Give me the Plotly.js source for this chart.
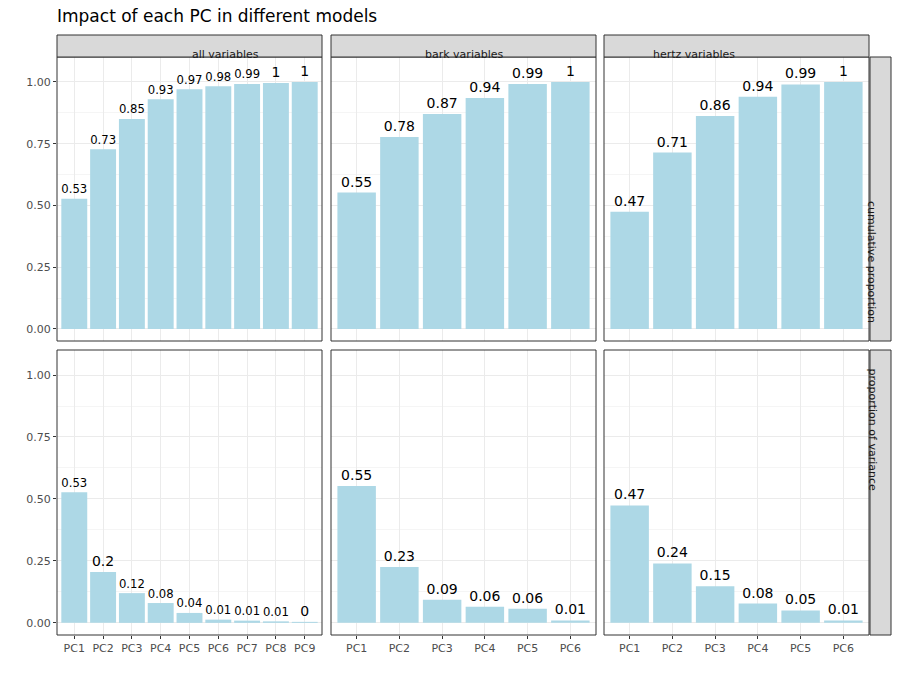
<!DOCTYPE html>
<html>
<head>
<script src="https://cdn.plot.ly/plotly-3.0.1.min.js"></script>
<style>body{margin:0}</style>
</head>
<body>
<div id="plot" style="width:900px;height:675px"></div>
<script>
var pcAll = ['PC1','PC2','PC3','PC4','PC5','PC6','PC7','PC8','PC9'];
var pcSix = ['PC1','PC2','PC3','PC4','PC5','PC6'];

var allCum = [0.527,0.727,0.850,0.930,0.970,0.983,0.992,0.996,1.0];
var barkCum = [0.552,0.777,0.870,0.935,0.992,1.0];
var hertzCum = [0.474,0.714,0.862,0.940,0.990,1.0];
var allProp = [0.527,0.205,0.120,0.080,0.040,0.013,0.009,0.006,0.004];
var barkProp = [0.552,0.225,0.093,0.065,0.057,0.010];
var hertzProp = [0.474,0.240,0.148,0.078,0.050,0.010];

var allCumLbl = ['0.53','0.73','0.85','0.93','0.97','0.98','0.99','1','1'];
var barkCumLbl = ['0.55','0.78','0.87','0.94','0.99','1'];
var hertzCumLbl = ['0.47','0.71','0.86','0.94','0.99','1'];
var allPropLbl = ['0.53','0.2','0.12','0.08','0.04','0.01','0.01','0.01','0'];
var barkPropLbl = ['0.55','0.23','0.09','0.06','0.06','0.01'];
var hertzPropLbl = ['0.47','0.24','0.15','0.08','0.05','0.01'];

var colNames = ['all variables','bark variables','hertz variables'];
var rowNames = ['cumulative proportion','proportion of variance'];

var panels = [
  [pcAll, allCum, allCumLbl], [pcSix, barkCum, barkCumLbl], [pcSix, hertzCum, hertzCumLbl],
  [pcAll, allProp, allPropLbl], [pcSix, barkProp, barkPropLbl], [pcSix, hertzProp, hertzPropLbl]
];

var xDom = [[57/900,322/900],[331/900,596/900],[604/900,869/900]];
var yDom = [[1-341/675,1-57/675],[1-635/675,1-350/675]];

var data = [];
var layout = {
  width:900, height:675, margin:{l:0,r:0,t:0,b:0},
  paper_bgcolor:'white', plot_bgcolor:'white', showlegend:false, bargap:0.1,
  font:{family:'DejaVu Sans, Liberation Sans, sans-serif'},
  title:{text:'Impact of each PC in different models', x:57/900, xanchor:'left', y:1-16/675, yanchor:'middle', font:{size:17,color:'black'}},
  shapes:[], annotations:[]
};

panels.forEach(function(p, i){
  var r = Math.floor(i/3), c = i%3, n = i+1;
  var xa = 'x'+(n===1?'':n), ya = 'y'+(n===1?'':n);
  data.push({type:'bar', x:p[0], y:p[1], text:p[2], textposition:'outside', cliponaxis:false,
    textfont:{size:14,color:'black'}, marker:{color:'#add8e6'}, xaxis:xa, yaxis:ya, hoverinfo:'none'});
  layout['xaxis'+(n===1?'':n)] = {domain:xDom[c], anchor:ya, range:[-0.6, p[0].length-0.4],
    showgrid:true, gridcolor:'#ebebeb', zeroline:false, showline:false,
    showticklabels: r===1, ticks: r===1?'outside':'', ticklen:3, tickcolor:'#333',
    tickfont:{size:11,color:'#4d4d4d'}, fixedrange:true};
  layout['yaxis'+(n===1?'':n)] = {domain:yDom[r], anchor:xa, range:[-0.049,1.101],
    tickvals:[0,0.25,0.5,0.75,1], ticktext:['0.00','0.25','0.50','0.75','1.00'],
    showgrid:true, gridcolor:'#ebebeb', zeroline:false, showline:false,
    minor:{tickvals:[0.125,0.375,0.625,0.875], showgrid:true, gridcolor:'#f5f5f5'},
    showticklabels: c===0, ticks: c===0?'outside':'', ticklen:3, tickcolor:'#333',
    tickfont:{size:11,color:'#4d4d4d'}, fixedrange:true};
  layout.shapes.push({type:'rect', xref:'paper', yref:'paper', x0:xDom[c][0], x1:xDom[c][1],
    y0:yDom[r][0], y1:yDom[r][1], line:{color:'#333',width:1}});
});

colNames.forEach(function(t, c){
  layout.shapes.push({type:'rect', xref:'paper', yref:'paper', x0:xDom[c][0], x1:xDom[c][1],
    y0:1-57/675, y1:1-35/675, fillcolor:'#d9d9d9', line:{color:'#333',width:1}});
  layout.annotations.push({text:t, xref:'paper', yref:'paper', x:(xDom[c][0]+xDom[c][1])/2,
    y:1-46/675, showarrow:false, font:{size:11,color:'#1a1a1a'}});
});
rowNames.forEach(function(t, r){
  layout.shapes.push({type:'rect', xref:'paper', yref:'paper', x0:870/900, x1:891/900,
    y0:yDom[r][0], y1:yDom[r][1], fillcolor:'#d9d9d9', line:{color:'#333',width:1}});
  layout.annotations.push({text:t, xref:'paper', yref:'paper', x:880.5/900,
    y:(yDom[r][0]+yDom[r][1])/2, textangle:90, showarrow:false, font:{size:11,color:'#1a1a1a'}});
});

Plotly.newPlot('plot', data, layout, {displayModeBar:false, staticPlot:true});
</script>
</body>
</html>
